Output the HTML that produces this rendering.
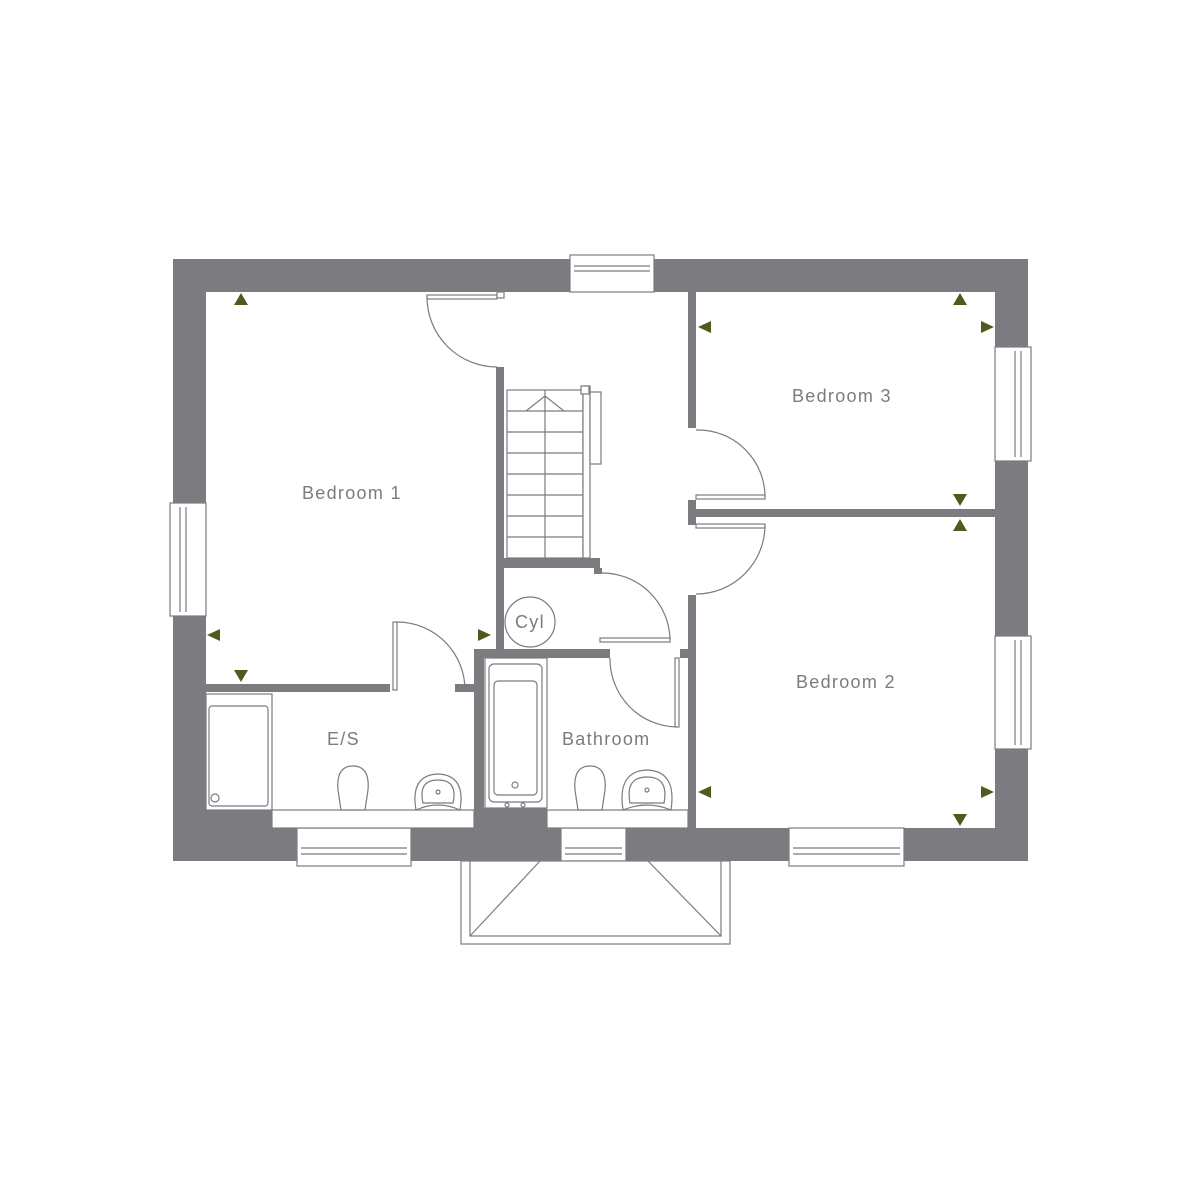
<!DOCTYPE html>
<html><head><meta charset="utf-8"><style>
html,body{margin:0;padding:0;background:#fff;}
svg{display:block;}
text{font-family:"Liberation Sans",sans-serif;font-size:18px;letter-spacing:1.3px;fill:#7b7b80;}
</style></head><body>
<svg width="1200" height="1200" viewBox="0 0 1200 1200" xmlns="http://www.w3.org/2000/svg">
<g fill="#7b7b80">
<rect x="173" y="259" width="855" height="33"/>
<rect x="173" y="259" width="33" height="602"/>
<rect x="995" y="259" width="33" height="602"/>
<rect x="173" y="828" width="855" height="33"/>
<rect x="206" y="810" width="66" height="20"/>
<rect x="474" y="808" width="73" height="22"/>
<rect x="496" y="367" width="8" height="292"/>
<rect x="504" y="558" width="96" height="10"/>
<rect x="594" y="568" width="8" height="6"/>
<rect x="474" y="649" width="136" height="9"/>
<rect x="474" y="649" width="10" height="180"/>
<rect x="206" y="684" width="184" height="8"/>
<rect x="455" y="684" width="19" height="8"/>
<rect x="688" y="292" width="8" height="136"/>
<rect x="688" y="500" width="8" height="25"/>
<rect x="688" y="595" width="8" height="233"/>
<rect x="680" y="649" width="8" height="9"/>
<rect x="696" y="509" width="299" height="8"/>
</g>
<g fill="#fff" stroke="#7b7b80" stroke-width="1.2">
<rect x="570" y="255" width="84" height="37"/>
<line x1="574" y1="266" x2="650" y2="266"/><line x1="574" y1="271" x2="650" y2="271"/>
<rect x="170" y="503" width="36" height="113"/>
<line x1="180" y1="507" x2="180" y2="612"/><line x1="186" y1="507" x2="186" y2="612"/>
<rect x="995" y="347" width="36" height="114"/>
<line x1="1015" y1="351" x2="1015" y2="457"/><line x1="1021" y1="351" x2="1021" y2="457"/>
<rect x="995" y="636" width="36" height="113"/>
<line x1="1015" y1="640" x2="1015" y2="745"/><line x1="1021" y1="640" x2="1021" y2="745"/>
<rect x="297" y="828" width="114" height="38"/>
<line x1="301" y1="848" x2="407" y2="848"/><line x1="301" y1="854" x2="407" y2="854"/>
<rect x="561" y="828" width="65" height="38"/>
<line x1="565" y1="848" x2="622" y2="848"/><line x1="565" y1="854" x2="622" y2="854"/>
<rect x="789" y="828" width="115" height="38"/>
<line x1="793" y1="848" x2="900" y2="848"/><line x1="793" y1="854" x2="900" y2="854"/>
<rect x="272" y="810" width="202" height="18"/>
<rect x="547" y="810" width="141" height="18"/>
<rect x="206" y="694" width="66" height="116"/>
<rect x="209" y="706" width="59" height="100" rx="3"/>
<circle cx="215" cy="798" r="4"/>
<rect x="485" y="658" width="62" height="150"/>
<rect x="489" y="664" width="53" height="138" rx="5"/>
<rect x="494" y="681" width="43" height="114" rx="4"/>
<circle cx="515" cy="785" r="3"/><circle cx="507" cy="805" r="2"/><circle cx="523" cy="805" r="2"/>
<path d="M341 810 L338 790 Q336 766 353 766 Q370 766 368 790 L365 810 Z"/>
<path d="M578 810 L575 790 Q573 766 590 766 Q607 766 605 790 L602 810 Z"/>
<path d="M416 810 Q410 775 438 774 Q466 775 460 810 Q438 800 416 810 Z"/>
<path d="M423 803 Q418 780 438 780 Q458 780 453 803 Z"/>
<circle cx="438" cy="792" r="2"/>
<path d="M623 810 Q617 771 647 770 Q677 771 671 810 Q647 800 623 810 Z"/>
<path d="M630 803 Q625 777 647 777 Q669 777 664 803 Z"/>
<circle cx="647" cy="790" r="2"/>
<circle cx="530" cy="622" r="25"/>
<rect x="507" y="390" width="76" height="168"/>
<line x1="545" y1="390" x2="545" y2="558"/>
<line x1="507" y1="411" x2="583" y2="411"/>
<line x1="507" y1="432" x2="583" y2="432"/>
<line x1="507" y1="453" x2="583" y2="453"/>
<line x1="507" y1="474" x2="583" y2="474"/>
<line x1="507" y1="495" x2="583" y2="495"/>
<line x1="507" y1="516" x2="583" y2="516"/>
<line x1="507" y1="537" x2="583" y2="537"/>
<polyline points="526,411 545,396 564,411" fill="none"/>
<rect x="583" y="386" width="7" height="172"/>
<rect x="590" y="392" width="11" height="72"/>
<rect x="581" y="386" width="8" height="8"/>
<rect x="427" y="295" width="70" height="4"/>
<rect x="497" y="292" width="7" height="6"/>
<rect x="696" y="495" width="69" height="4"/>
<rect x="696" y="524" width="69" height="4"/>
<rect x="600" y="638" width="70" height="4"/>
<rect x="675" y="658" width="4" height="69"/>
<rect x="393" y="622" width="4" height="68"/>
<rect x="461" y="861" width="269" height="83"/>
<rect x="470" y="861" width="251" height="75"/>
</g>
<g fill="none" stroke="#7b7b80" stroke-width="1.2">
<path d="M427 297 A70 70 0 0 0 497 367"/>
<path d="M696 430 A67 67 0 0 1 765 497"/>
<path d="M765 525 A69 69 0 0 1 696 594"/>
<path d="M600 573 A68 68 0 0 1 670 640"/>
<path d="M610 658 A68 68 0 0 0 677 727"/>
<path d="M397 622 A68 68 0 0 1 465 690"/>
<line x1="470" y1="936" x2="540" y2="861"/>
<line x1="648" y1="861" x2="721" y2="936"/>
</g>
<g fill="#4f5a1e">
<polygon points="234,305 241,293 248,305"/>
<polygon points="220,629 207,635 220,641"/>
<polygon points="234,670 241,682 248,670"/>
<polygon points="478,629 491,635 478,641"/>
<polygon points="953,305 960,293 967,305"/>
<polygon points="711,321 698,327 711,333"/>
<polygon points="981,321 994,327 981,333"/>
<polygon points="953,494 960,506 967,494"/>
<polygon points="953,531 960,519 967,531"/>
<polygon points="711,786 698,792 711,798"/>
<polygon points="981,786 994,792 981,798"/>
<polygon points="953,814 960,826 967,814"/>
</g>
<text x="302" y="499">Bedroom 1</text>
<text x="792" y="402">Bedroom 3</text>
<text x="796" y="688">Bedroom 2</text>
<text x="327" y="745">E/S</text>
<text x="562" y="745">Bathroom</text>
<text x="515" y="628">Cyl</text>
</svg>
</body></html>
